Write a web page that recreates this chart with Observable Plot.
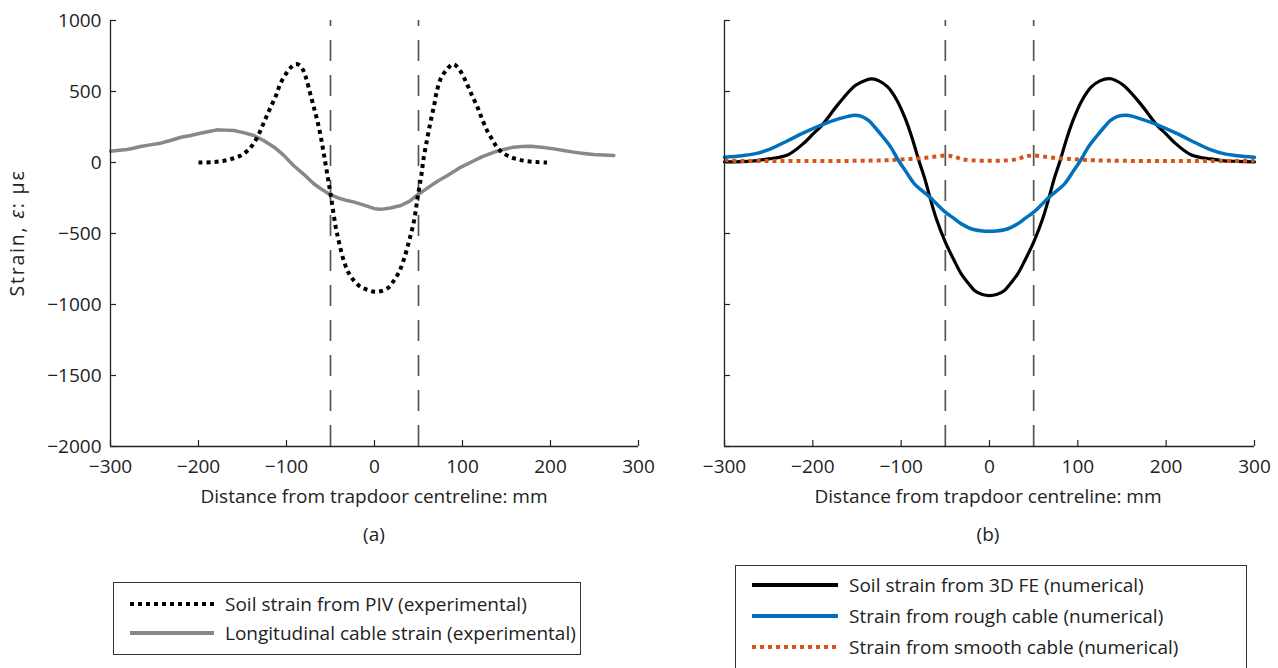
<!DOCTYPE html>
<html><head><meta charset="utf-8">
<script src="https://cdn.jsdelivr.net/npm/d3@7"></script>
<script src="https://cdn.jsdelivr.net/npm/@observablehq/plot@0.6"></script>
<style>
body{margin:0;background:#fff;font-family:"Open Sans",sans-serif;color:#222}
#wrap{position:relative;width:1278px;height:668px;overflow:hidden;background:#fff}
.abs{position:absolute}
.t{font-size:19px;white-space:nowrap;line-height:1}
.ctr{transform:translate(-50%,-50%)}
.legend{position:absolute;border:1px solid #333;box-sizing:border-box;background:#fff}
.row{position:absolute;display:flex;align-items:center;font-size:19px;white-space:nowrap}
.row svg{margin-right:11px}
</style></head><body><div id="wrap"></div>
<script>
// ---- data ----
const xTicks = [-300, -200, -100, 0, 100, 200, 300];
const yTicks = [-2000, -1500, -1000, -500, 0, 500, 1000];
const trapdoorEdges = [-50, 50];

// (a) Soil strain from PIV (experimental)
const pivX = [-200,-185,-171,-160,-152,-145,-139,-133,-128,-123,-118,-112,-107,-100,-95,-90,-86,-82,-78,-73,-69,-65,-61,-57.6,-54,-50,-44,-40,-35,-30,-23.5,-16,-8,0,8,16,22,28,33,39,45,49,53,56,60,64,68,71,76,83,88,92,98,105,111,117,122,128,134,139,145,155,164,174,185,196];
const pivY = [0,2,12,30,49,80,120,180,249,320,390,470,554,630,670,692,688,660,600,484,390,296,180,61,-70,-220,-456,-570,-690,-770,-831,-875,-897,-910,-905,-880,-831,-770,-690,-560,-408,-244,-100,37,170,296,410,507,600,660,690,685,640,554,470,390,310,225,160,108,72,37,20,9,3,0];

// (a) Longitudinal cable strain (experimental)
const cableX = [-300,-290,-281,-274,-266,-255,-243,-232,-220,-209,-198,-188,-179,-170,-160,-150,-137,-126,-114,-103,-92,-80,-69,-61,-52,-42,-31,-23,-12,0,7,18,30,40,48,60,72,83,96,109,122,136,147,158,168,177,190,204,215,226,238,249,260,272];
const cableY = [80,86,92,100,113,124,136,155,178,190,206,218,230,228,225,212,190,155,108,50,-21,-85,-150,-185,-220,-248,-268,-279,-300,-325,-330,-320,-303,-272,-232,-180,-130,-92,-40,0,40,73,92,108,112,115,108,96,85,73,64,56,52,49];

// (b) Soil strain from 3D FE (numerical)
const feX = [-300,-280,-266,-250,-228,-209,-200,-190,-171,-152,-140,-133,-125,-115,-105,-96,-88,-80,-73,-67.5,-60,-50,-40,-32,-24,-17,-8,0,8,17,24,32,40,50,60,67.5,73,80,88,96,105,115,125,136,142,152,171,190,200,209,228,250,266,280,300];
const feY = [5,6,12,25,55,143,200,260,413,542,580,589,575,530,440,319,180,14,-120,-244,-400,-561,-690,-784,-850,-901,-930,-937,-930,-901,-850,-784,-690,-561,-400,-244,-120,14,180,319,440,530,575,590,580,542,413,260,200,143,55,25,12,8,5];

// (b) Strain from rough cable (numerical)
const roughX = [-300,-280,-266,-250,-228,-210,-190,-171,-160,-153,-145,-137,-130,-122,-112,-103,-95,-85,-76,-67.5,-60,-50,-40,-32,-24,-17,-8,0,8,17,24,32,40,50,60,67.5,76,85,95,103,112,122,130,137,145,155,162,171,190,210,228,250,266,280,300];
const roughY = [37,48,61,90,155,210,265,307,325,333,325,296,250,190,110,14,-60,-150,-200,-244,-290,-350,-395,-432,-458,-474,-482,-484,-482,-474,-458,-432,-395,-350,-290,-244,-200,-150,-60,14,110,190,250,296,325,333,325,307,265,210,155,90,61,48,37];

// (b) Strain from smooth cable (numerical)
const smoothX = [-300,-250,-200,-150,-120,-103,-90,-77,-65,-50,-40,-32,-20,0,20,32,40,50,65,77,90,103,120,150,200,250,300];
const smoothY = [12,10,10,12,15,20,25,30,38,49,42,25,15,12,15,25,42,49,38,30,25,20,15,12,10,10,12];

// ---- helpers ----
const fmt = d => d < 0 ? "\u2212" + Math.abs(d) : String(d);
const rows = (xs, ys) => xs.map((x, i) => ({x, y: ys[i]}));
const blank = () => "";
const FS = 19;

function panel({width, marginLeft, marginRight, showYLabels, lines}) {
  return Plot.plot({
    width, height: 480, marginLeft, marginRight, marginTop: 20, marginBottom: 34,
    x: {domain: [-300, 300]},
    y: {domain: [-2000, 1000]},
    style: {fontFamily: "'Open Sans', sans-serif", fontSize: FS + "px", color: "#222", background: "transparent", overflow: "visible"},
    marks: [
      Plot.ruleX(trapdoorEdges, {y1: -2000, y2: 1000, stroke: "#555", strokeWidth: 1.7, strokeDasharray: "21,14"}),
      ...lines,
      Plot.ruleX([-300], {stroke: "#222", strokeWidth: 1.3}),
      Plot.ruleY([-2000], {stroke: "#222", strokeWidth: 1.3}),
      Plot.axisX(xTicks, {tickSize: 0, tickPadding: 13, tickFormat: fmt, label: null, fill: "#222", fontSize: FS}),
      Plot.axisX(xTicks, {tickSize: 6, dy: -6, tickFormat: blank, label: null, stroke: "#222", strokeWidth: 1.2}),
      Plot.axisY(yTicks, {tickSize: 0, tickPadding: 9, tickFormat: showYLabels ? fmt : blank, label: null, fill: "#222", fontSize: FS}),
      Plot.axisY(yTicks, {tickSize: 6, dx: 6, tickFormat: blank, label: null, stroke: "#222", strokeWidth: 1.2})
    ]
  });
}

const dotted = {strokeWidth: 4, strokeDasharray: "4,4", strokeLinecap: "butt", strokeLinejoin: "miter", curve: "catmull-rom"};

const left = panel({
  width: 660, marginLeft: 110, marginRight: 22, showYLabels: true,
  lines: [
    Plot.line(rows(cableX, cableY), {x: "x", y: "y", stroke: "#888", strokeWidth: 3.5, curve: "linear"}),
    Plot.line(rows(pivX, pivY), {x: "x", y: "y", stroke: "#000", ...dotted})
  ]
});
const right = panel({
  width: 638, marginLeft: 84, marginRight: 24, showYLabels: false,
  lines: [
    Plot.line(rows(feX, feY), {x: "x", y: "y", stroke: "#000", strokeWidth: 3.2, curve: "catmull-rom"}),
    Plot.line(rows(smoothX, smoothY), {x: "x", y: "y", stroke: "#D95319", ...dotted}),
    Plot.line(rows(roughX, roughY), {x: "x", y: "y", stroke: "#0072BD", strokeWidth: 3.5, curve: "catmull-rom"})
  ]
});

const wrap = document.getElementById("wrap");
left.style.position = "absolute"; left.style.left = "0px"; left.style.top = "0px";
right.style.position = "absolute"; right.style.left = "640px"; right.style.top = "0px";
wrap.appendChild(left);
wrap.appendChild(right);

function text(html, x, y, extra = "") {
  const d = document.createElement("div");
  d.className = "abs t ctr";
  d.style.left = x + "px"; d.style.top = y + "px";
  if (extra) d.style.cssText += extra;
  d.innerHTML = html;
  wrap.appendChild(d);
  return d;
}
const xTitle = "Distance from trapdoor centreline: mm";
text(xTitle, 374, 496);
text("(a)", 374, 534);
text(xTitle, 988, 496);
text("(b)", 988, 534);
text("Strain, <i>\u03b5</i>: \u03bc\u03b5", 17, 233, "font-size:19.5px;letter-spacing:1.8px;transform:translate(-50%,-50%) rotate(-90deg);");

// ---- legends ----
const legendA = [
  {label: "Soil strain from PIV (experimental)", stroke: "#000", dash: "4,4"},
  {label: "Longitudinal cable strain (experimental)", stroke: "#888", dash: null}
];
const legendB = [
  {label: "Soil strain from 3D FE (numerical)", stroke: "#000", dash: null},
  {label: "Strain from rough cable (numerical)", stroke: "#0072BD", dash: null},
  {label: "Strain from smooth cable (numerical)", stroke: "#D95319", dash: "4,4"}
];
function legend(items, x, y, w, h, padLeft, rowTop, rowGap, swW) {
  const box = document.createElement("div");
  box.className = "legend";
  box.style.left = x + "px"; box.style.top = y + "px";
  box.style.width = w + "px"; box.style.height = h + "px";
  items.forEach((it, i) => {
    const r = document.createElement("div");
    r.className = "row";
    r.style.left = padLeft + "px";
    r.style.top = (rowTop + i * rowGap - 11) + "px";
    r.style.height = "22px";
    r.innerHTML = `<svg width="${swW}" height="8"><line x1="0" x2="${swW}" y1="4" y2="4" stroke="${it.stroke}" stroke-width="4" ${it.dash ? `stroke-dasharray="${it.dash}"` : ""}/></svg><span>${it.label}</span>`;
    box.appendChild(r);
  });
  wrap.appendChild(box);
}
legend(legendA, 113, 582, 468, 73, 16, 21, 29, 84);
legend(legendB, 735, 565, 512, 120, 16, 19, 31, 86);
</script>
</body></html>
